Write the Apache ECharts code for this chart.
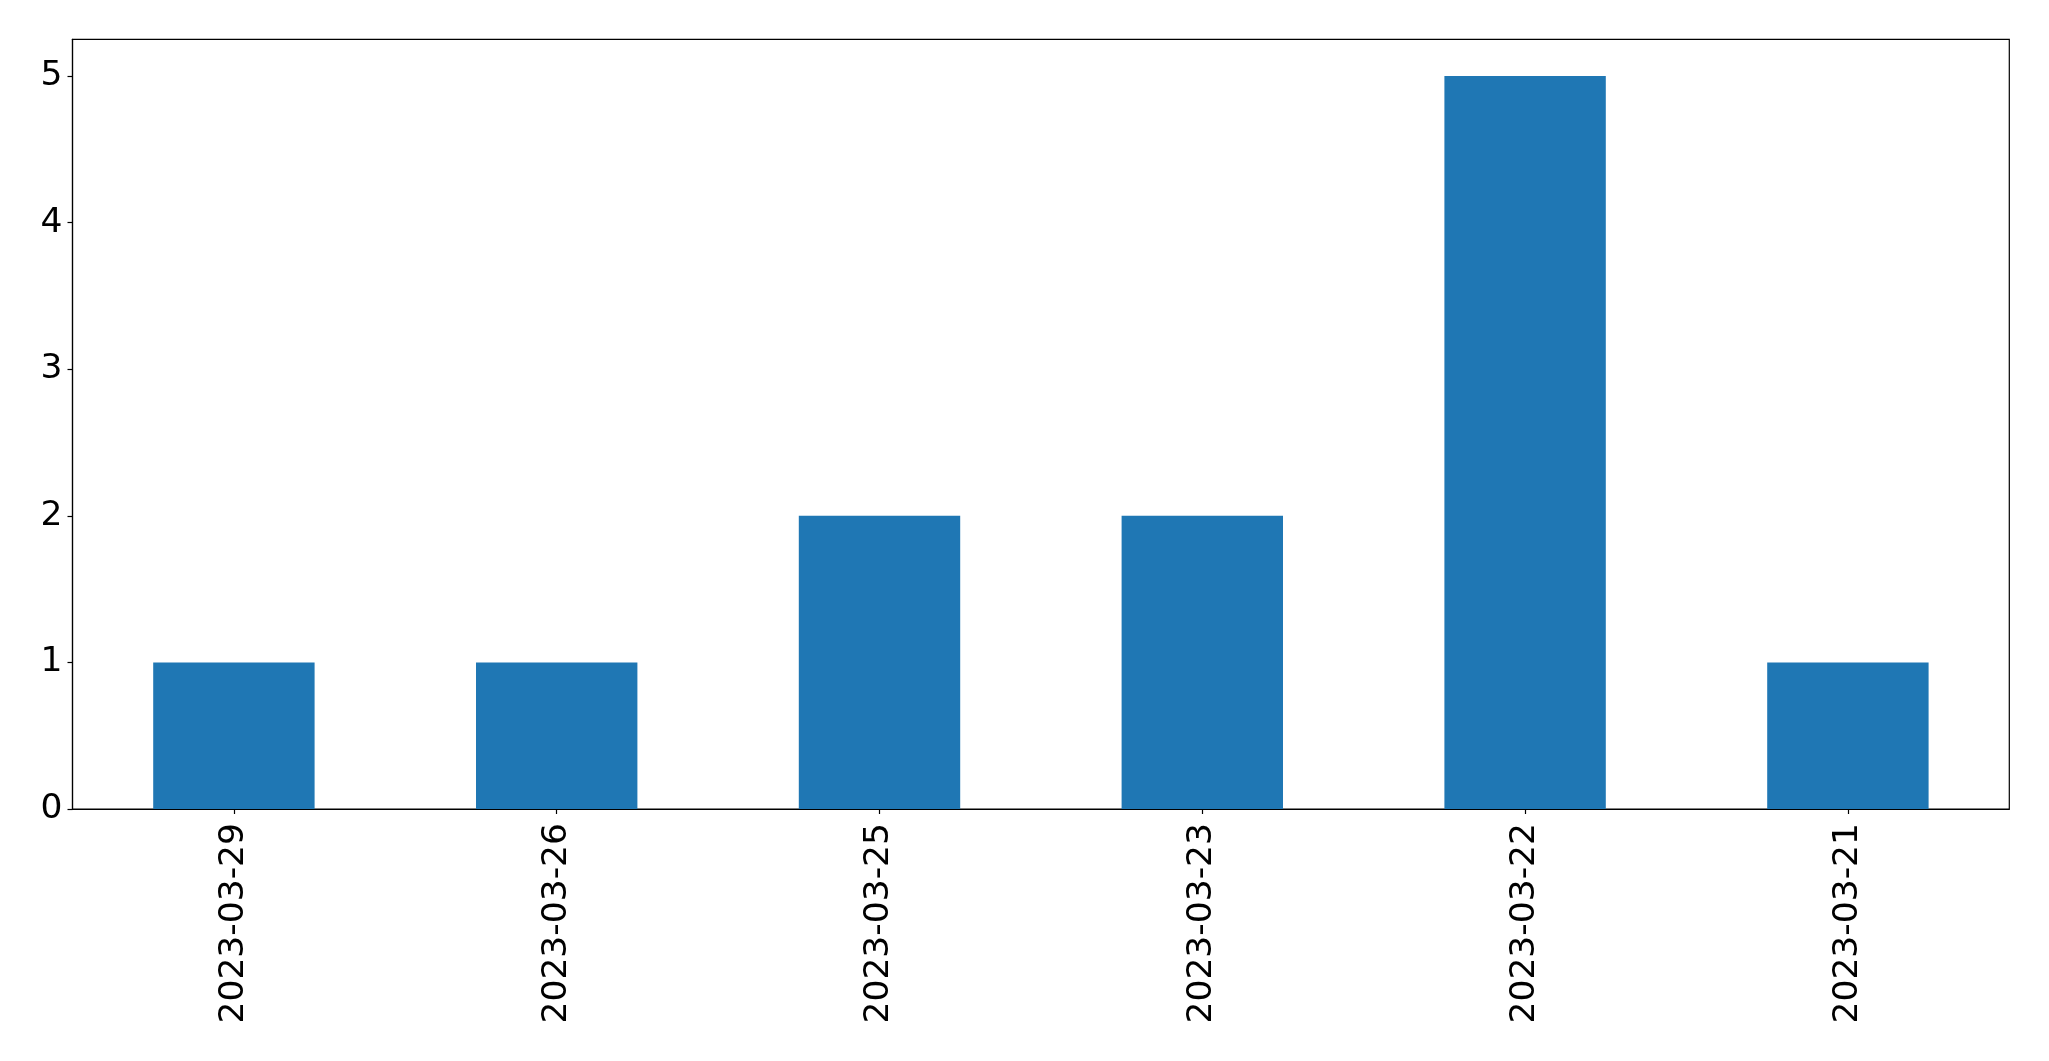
<!DOCTYPE html>
<html>
<head>
<meta charset="utf-8">
<script src="https://cdn.jsdelivr.net/npm/echarts@6/dist/echarts.min.js"></script>
<style>
html,body{margin:0;padding:0;background:#fff;}
#c{width:2049px;height:1061px;}
</style>
</head>
<body>
<div id="c"></div>
<script>
const categories = ['2023-03-29','2023-03-26','2023-03-25','2023-03-23','2023-03-22','2023-03-21'];
const counts = [1, 1, 2, 2, 5, 1];
const yTicks = [0, 1, 2, 3, 4, 5];

const chart = echarts.init(document.getElementById('c'), null, {renderer: 'canvas'});
const font = 'DejaVu Sans';
chart.setOption({
  animation: false,
  backgroundColor: '#ffffff',
  grid: {
    left: 72.5, right: 39.7, top: 39.3, bottom: 252,
    show: true, borderColor: '#000', borderWidth: 1.2, backgroundColor: 'transparent'
  },
  xAxis: {
    type: 'category',
    data: categories,
    boundaryGap: true,
    axisLine: {show: true, lineStyle: {color: '#000', width: 1.2}},
    axisTick: {show: true, alignWithLabel: true, length: 5, lineStyle: {color: '#000', width: 1.2}},
    axisLabel: {rotate: 90, margin: 14, color: '#000', fontFamily: font, fontSize: 34.5, interval: 0},
    splitLine: {show: false}
  },
  yAxis: {
    type: 'value',
    min: 0, max: 5.25, interval: 1,
    axisLine: {show: true, lineStyle: {color: '#000', width: 1.2}},
    axisTick: {show: true, length: 5, lineStyle: {color: '#000', width: 1.2}, customValues: yTicks},
    axisLabel: {margin: 10, color: '#000', fontFamily: font, fontSize: 34.5, customValues: yTicks},
    splitLine: {show: false}
  },
  series: [{
    type: 'bar',
    data: counts,
    barWidth: '50%',
    itemStyle: {color: '#1f77b4'}
  }]
});
</script>
</body>
</html>
